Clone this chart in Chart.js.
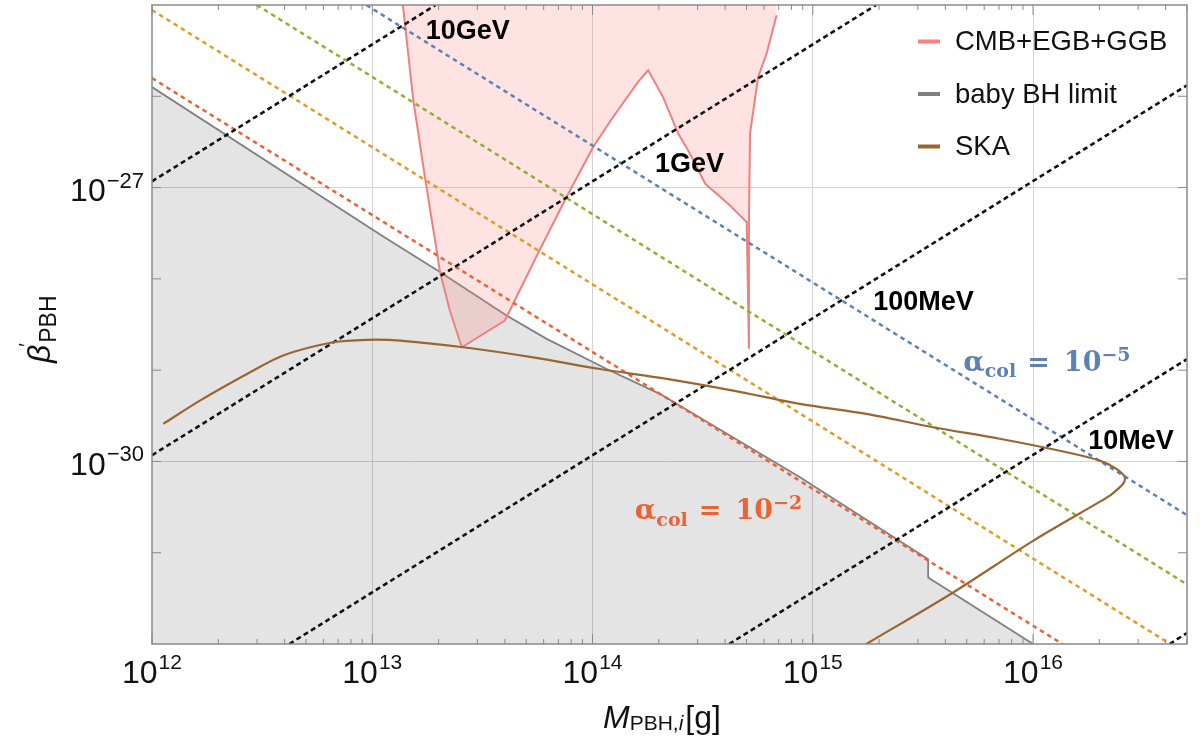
<!DOCTYPE html>
<html>
<head>
<meta charset="utf-8">
<script src="https://cdn.jsdelivr.net/npm/chart.js@4.4.0/dist/chart.umd.min.js"></script>
<style>
  html, body { margin: 0; padding: 0; background: #fff; }
</style>
</head>
<body>
<canvas id="myChart" width="1202" height="739"></canvas>
<script>
// ---- data ----
// CMB+EGB+GGB excluded region (boundary curve, filled up to top)
const cmbMass = [1.377e13, 1.536e13, 1.734e13, 1.96e13, 2.03e13, 2.25e13, 2.55e13, 4.0e13, 4.36e13,
  5.77e13, 7.62e13, 1.007e14, 1.24e14, 1.61e14, 1.79e14, 2.09e14, 2.45e14, 2.77e14, 3.25e14,
  4.13e14, 5.01e14, 5.13e14, 5.13e14, 5.19e14, 5.56e14, 5.65e14, 6.17e14, 6.85e14];
const cmbBeta = [1e-25, 9.03e-27, 1.30e-27, 2.05e-28, 1.19e-28, 4.5e-29, 1.78e-29, 3.5e-29, 5.33e-29,
  2.1e-28, 7.87e-28, 2.78e-27, 5.93e-27, 1.44e-26, 1.93e-26, 9.8e-27, 3.9e-27, 2.35e-27, 1.1e-27,
  6.66e-28, 4.19e-28, 1.71e-29, 4.19e-28, 3.9e-27, 1.26e-26, 1.63e-26, 2.94e-26, 7.73e-26];

// baby BH limit (filled below)
const bhMass = [1e12, 1.14e13, 2.03e13, 4.07e13, 6.19e13, 1.16e14, 2.02e14, 8.75e14, 3.34e15, 3.34e15, 1e16];
const bhBeta = [1.26e-26, 2.84e-28, 1.19e-28, 3.97e-29, 2.2e-29, 1.03e-29, 5.5e-30, 6.7e-31, 8.5e-32, 5.36e-32, 1e-32];

// SKA sensitivity
const skaMass = [1.125e12, 1.65e12, 2.79e12, 3.94e12, 6.65e12, 9.44e12, 1.34e13, 2.59e13, 5.38e13,
  1.08e14, 2.17e14, 4.35e14, 8.73e14, 1.75e15, 3.52e15, 7.06e15, 1.42e16, 2.01e16, 2.39e16,
  2.61e16, 2.56e16, 2.23e16, 2.05e16, 1.0e16, 4.34e15, 1.75e15];
const skaBeta = [2.58e-30, 4.64e-30, 9.49e-30, 1.45e-29, 2.02e-29, 2.15e-29, 2.11e-29, 1.78e-29, 1.38e-29,
  1.03e-29, 8.03e-30, 5.97e-30, 4.27e-30, 3.32e-30, 2.37e-30, 1.77e-30, 1.26e-30, 1.02e-30, 8.28e-31,
  6.70e-31, 5.66e-31, 4.21e-31, 3.72e-31, 1.35e-31, 3.67e-32, 1e-32];

// temperature lines (black dotted), end points
const energyNames = ['10GeV', '1GeV', '100MeV', '10MeV', ''];
const energyMass = [[1e12, 1.94e13], [1e12, 1.94e15], [4.2e12, 5e16], [4.17e14, 5e16], [4.17e16, 5e16]];
const energyBeta = [[1.17e-27, 1e-25], [1.17e-30, 1e-25], [1e-32, 1.32e-26], [1e-32, 1.32e-29], [1e-32, 1.32e-32]];

// alpha_col lines (coloured dotted), end points: 1e-5, 1e-4, 1e-3, 1e-2
const alphaExps = ['−5', '−4', '−3', '−2'];
const alphaMass = [[9.4e12, 5e16], [2.99e12, 5e16], [1e12, 4.2e16], [1e12, 1.36e16]];
const alphaBeta = [[1e-25, 2.58e-31], [1e-25, 4.5e-32], [8.8e-26, 1e-32], [1.58e-26, 1e-32]];
const alphaColors = ['#5E81B5', '#8FB032', '#E19C24', '#EB6235'];

// axes
const xRange = [1e12, 5e16];
const yRange = [1e-32, 1e-25];
const xTickExps = [12, 13, 14, 15, 16];
const yTickExps = [-27, -30];
const xGridVals = [1e13, 1e14, 1e15, 1e16];
const yGridVals = [1e-27, 1e-30];

// ---- build datasets ----
function pts(ms, bs) { return ms.map((m, i) => ({ x: m, y: bs[i] })); }

const datasets = [];
datasets.push({ label: 'SKA', data: pts(skaMass, skaBeta), borderColor: '#996633', borderWidth: 2.2,
  fill: false, tension: 0.3 });
energyMass.forEach((m, i) => {
  datasets.push({ label: energyNames[i] || 'T line', data: pts(m, energyBeta[i]), borderColor: '#111',
    borderWidth: 2.6, borderDash: [5, 3.5], fill: false });
});
alphaMass.forEach((m, i) => {
  datasets.push({ label: 'alpha 1e' + alphaExps[i], data: pts(m, alphaBeta[i]), borderColor: alphaColors[i],
    borderWidth: 2.5, borderDash: [4.5, 4], fill: false });
});
datasets.push({ label: 'CMB+EGB+GGB', data: pts(cmbMass, cmbBeta), borderColor: '#F08080', borderWidth: 2,
  fill: 'end', backgroundColor: 'rgba(255,128,128,0.22)' });
datasets.push({ label: 'baby BH limit', data: pts(bhMass, bhBeta), borderColor: '#808080', borderWidth: 1.8,
  fill: 'start', backgroundColor: 'rgba(0,0,0,0.105)' });

const legendItems = [
  { text: 'CMB+EGB+GGB', color: '#FF8080' },
  { text: 'baby BH limit', color: '#808080' },
  { text: 'SKA', color: '#996633' }
];

const energyLabelPos = [[1.75e13, 4.19e-26], [1.92e14, 1.48e-27], [1.88e15, 4.58e-29], [1.78e16, 1.37e-30]];
const alphaLabels = [
  { pos: [4.82e15, 9.9e-30], exp: '−5', color: '#5E81B5' },
  { pos: [1.556e14, 2.34e-31], exp: '−2', color: '#EB6235' }
];

const SANS = '"Liberation Sans", Arial, sans-serif';
const SERIF = '"DejaVu Serif", serif';

function supText(ctx, base, exp, x, y, align, bigF, smallF, raise) {
  ctx.font = bigF; const w1 = ctx.measureText(base).width;
  ctx.font = smallF; const w2 = ctx.measureText(exp).width;
  let x0 = x;
  if (align === 'center') x0 = x - (w1 + w2 + 1) / 2;
  if (align === 'right') x0 = x - (w1 + w2 + 1);
  ctx.textAlign = 'left'; ctx.textBaseline = 'alphabetic';
  ctx.font = bigF; ctx.fillText(base, x0, y);
  ctx.font = smallF; ctx.fillText(exp, x0 + w1 + 1, y - raise);
}

const decor = {
  id: 'decor',
  afterDatasetsDraw(chart) {
    const { ctx, chartArea: a, scales: { x, y } } = chart;
    ctx.save();
    // frame
    ctx.strokeStyle = '#8a8a8a'; ctx.lineWidth = 1.5;
    ctx.strokeRect(a.left, a.top, a.right - a.left, a.bottom - a.top);
    // ticks, pointing inward
    ctx.lineWidth = 1;
    ctx.beginPath();
    for (let e = 12; e <= 16; e++) {
      for (let k = 1; k <= 9; k++) {
        const v = k * Math.pow(10, e);
        if (v > xRange[1]) break;
        const px = x.getPixelForValue(v);
        const len = k === 1 ? 10 : 5;
        ctx.moveTo(px, a.bottom); ctx.lineTo(px, a.bottom - len);
        ctx.moveTo(px, a.top); ctx.lineTo(px, a.top + len);
      }
    }
    for (let e = -31; e <= -26; e++) {
      const py = y.getPixelForValue(Math.pow(10, e));
      ctx.moveTo(a.left, py); ctx.lineTo(a.left + 9, py);
      ctx.moveTo(a.right, py); ctx.lineTo(a.right - 9, py);
    }
    ctx.stroke();

    // tick labels
    ctx.fillStyle = '#111';
    xTickExps.forEach(e => {
      supText(ctx, '10', String(e), x.getPixelForValue(Math.pow(10, e)), 682.5, 'center',
        '32px ' + SANS, '21px ' + SANS, 13.5);
    });
    yTickExps.forEach(e => {
      const py = y.getPixelForValue(Math.pow(10, e));
      supText(ctx, '10', '−' + String(-e), a.left - 8, py + 13.5, 'right',
        '32px ' + SANS, '22px ' + SANS, 13.5);
    });

    // axis titles
    ctx.textAlign = 'left'; ctx.textBaseline = 'alphabetic';
    let tx = 603;
    ctx.font = 'italic 32px ' + SANS; ctx.fillText('M', tx, 728); tx += ctx.measureText('M').width;
    ctx.font = '21px ' + SANS; ctx.fillText('PBH,', tx, 729.5); tx += ctx.measureText('PBH,').width;
    ctx.font = 'italic 21px ' + SANS; ctx.fillText('i', tx, 729.5); tx += ctx.measureText('i').width + 2;
    ctx.font = '32px ' + SANS; ctx.fillText('[g]', tx, 728);

    ctx.save();
    ctx.translate(50, 363);
    ctx.rotate(-Math.PI / 2);
    let ty = 0;
    ctx.font = 'italic 32px ' + SANS; ctx.fillText('β', ty, 0); ty += ctx.measureText('β').width;
    ctx.font = '20px ' + SANS; ctx.fillText('′', ty - 2, -17);
    ctx.font = '23px ' + SANS; ctx.fillText('PBH', ty + 2, 6);
    ctx.restore();

    // energy labels
    ctx.font = 'bold 27px ' + SANS; ctx.fillStyle = '#000';
    energyLabelPos.forEach((p, i) => {
      ctx.fillText(energyNames[i], x.getPixelForValue(p[0]), y.getPixelForValue(p[1]));
    });

    // alpha labels
    alphaLabels.forEach(l => {
      let px = x.getPixelForValue(l.pos[0]);
      const py = y.getPixelForValue(l.pos[1]);
      ctx.fillStyle = l.color;
      ctx.font = 'bold 28px ' + SERIF; ctx.fillText('α', px, py); px += ctx.measureText('α').width;
      ctx.font = 'bold 19px ' + SERIF; ctx.fillText('col', px, py + 6.7); px += ctx.measureText('col').width + 11;
      ctx.font = 'bold 27px ' + SERIF; ctx.fillText('=', px, py); px += ctx.measureText('=').width + 14;
      ctx.fillText('10', px, py); px += ctx.measureText('10').width;
      ctx.font = 'bold 19px ' + SERIF; ctx.fillText(l.exp, px, py - 10);
    });

    // legend
    legendItems.forEach((it, i) => {
      const by = 50 + i * 52.5;
      ctx.fillStyle = it.color;
      ctx.fillRect(918, by - 10.5, 22, 4);
      ctx.fillStyle = '#111';
      ctx.font = '27.5px ' + SANS;
      ctx.fillText(it.text, 955, by);
    });
    ctx.restore();
  }
};

const ctx = document.getElementById('myChart').getContext('2d');
const myChart = new Chart(ctx, {
  type: 'scatter',
  data: { datasets: datasets },
  plugins: [decor],
  options: {
    responsive: false,
    animation: false,
    showLine: true,
    elements: { point: { radius: 0, hitRadius: 0 }, line: { tension: 0 } },
    layout: { padding: { top: 5, right: 15, left: 0, bottom: 0 } },
    plugins: { legend: { display: false }, tooltip: { enabled: false } },
    scales: {
      x: {
        type: 'logarithmic', min: xRange[0], max: xRange[1],
        afterBuildTicks: s => { s.ticks = xGridVals.map(v => ({ value: v })); },
        afterFit: s => { s.height = 95; },
        ticks: { display: false },
        grid: { color: '#d4d4d4', lineWidth: 1, drawTicks: false },
        border: { display: false }
      },
      y: {
        type: 'logarithmic', min: yRange[0], max: yRange[1],
        afterBuildTicks: s => { s.ticks = yGridVals.map(v => ({ value: v })); },
        afterFit: s => { s.width = 152; },
        ticks: { display: false },
        grid: { color: '#d4d4d4', lineWidth: 1, drawTicks: false },
        border: { display: false }
      }
    }
  }
});
</script>
</body>
</html>
